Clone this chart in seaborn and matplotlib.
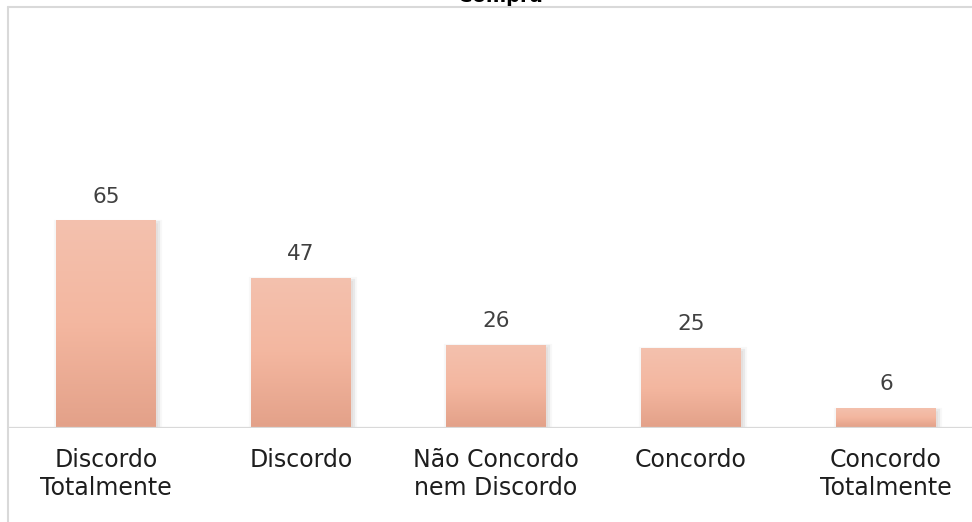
import numpy as np
import pandas as pd
import matplotlib
matplotlib.use("Agg")
import matplotlib.pyplot as plt
import matplotlib.patheffects as pe
from matplotlib.lines import Line2D
import seaborn as sns

categories = ["Discordo\nTotalmente", "Discordo", "Não Concordo\nnem Discordo",
              "Concordo", "Concordo\nTotalmente"]
values = [65, 47, 26, 25, 6]
title = "Compra"

sns.set_theme(style="white")
plt.rcParams["font.family"] = ["DejaVu Sans"]

W, H = 972, 522
fig = plt.figure(figsize=(W / 100, H / 100), dpi=100)

# plot area: baseline at y=427.5 px, 195 px per category
left_px, base_px, top_px = 8.5, 427.5, 7.0
ax = fig.add_axes([left_px / W, (H - base_px) / H, 975 / W, (base_px - top_px) / H])

df = pd.DataFrame({"cat": categories, "val": values})
sns.barplot(data=df, x="cat", y="val", ax=ax, width=0.51, color="#F4B8A0",
            edgecolor="none", zorder=2)

ax.set_ylim(0, 132)
ax.set_xlim(-0.5, len(categories) - 0.5)
for s in ax.spines.values():
    s.set_visible(False)
ax.set_yticks([])
ax.set_xlabel("")
ax.set_ylabel("")
ax.tick_params(axis="x", length=0, pad=15, labelsize=17, labelcolor="#1E1E1E")
for t in ax.get_xticklabels():
    t.set_linespacing(1.17)

# baseline
ax.axhline(0, color="#D9D9D9", lw=1.6, zorder=3)

# gradient fill and soft shadow for each bar
grad = np.linspace(0, 1, 256).reshape(-1, 1)
cmap = matplotlib.colors.LinearSegmentedColormap.from_list(
    "salmon", ["#E3A189", "#F4B7A0", "#F3C1AE"])
for p, v in zip(ax.patches, values):
    x0, w = p.get_x(), p.get_width()
    p.set_path_effects([
        pe.Stroke(linewidth=6, foreground="#808080", alpha=0.05, offset=(1.5, -2.5)),
        pe.Stroke(linewidth=3, foreground="#808080", alpha=0.12, offset=(1.5, -2)),
        pe.Normal(),
    ])
    im = ax.imshow(grad, extent=(x0, x0 + w, 0, v), origin="lower", cmap=cmap,
                   aspect="auto", zorder=2.5, interpolation="bilinear")
    im.set_clip_path(p)
    ax.annotate(f"{v}", (x0 + w / 2, v), xytext=(0, 10), textcoords="offset points",
                ha="center", va="bottom", fontsize=15.5, color="#404040")

ax.set_xlim(-0.5, len(categories) - 0.5)
ax.set_ylim(0, 132)

# chart frame (top and left edges)
fig.add_artist(Line2D([8 / W, 1], [1 - 7 / H, 1 - 7 / H], transform=fig.transFigure,
                      color="#D9D9D9", lw=1.5))
fig.add_artist(Line2D([8 / W, 8 / W], [0, 1 - 7 / H], transform=fig.transFigure,
                      color="#D9D9D9", lw=1.5))

fig.text(500 / W, 1 - 1.5 / H, title, ha="center", va="baseline",
         fontsize=14, fontweight="bold", color="#000000")

fig.savefig("out.png", dpi=100)
